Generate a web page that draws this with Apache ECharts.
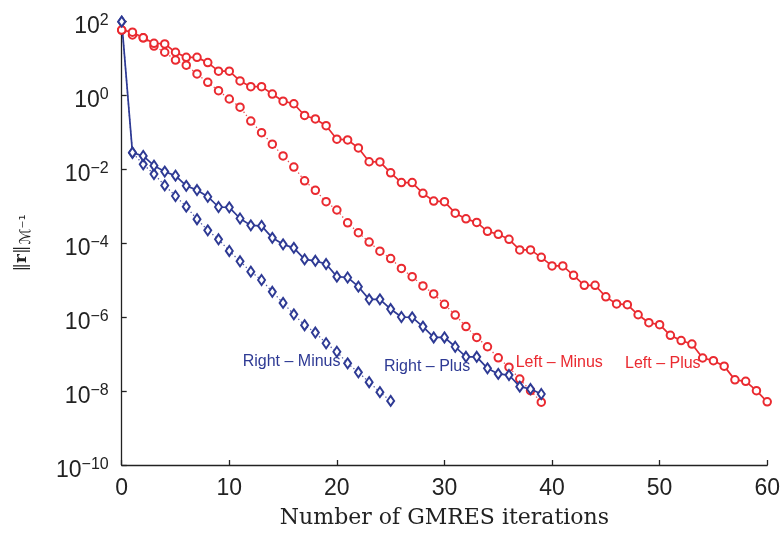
<!DOCTYPE html>
<html>
<head>
<meta charset="utf-8">
<script src="https://cdn.jsdelivr.net/npm/echarts@6/dist/echarts.min.js"></script>
<style>
  html, body { margin: 0; padding: 0; background: #ffffff; }
  #chart { width: 783px; height: 539px; }
</style>
</head>
<body>
<div id="chart"></div>
<script>
// Residual norm per GMRES iteration, four preconditioner variants
const leftPlus = [57, 50, 35, 25, 24, 14.3, 10.4, 10.4, 7.5, 4.4, 4.4, 2.4, 1.68, 1.68, 1.06,
  0.68, 0.58, 0.28, 0.225, 0.148, 0.064, 0.061, 0.037, 0.0157, 0.0155, 0.0079, 0.0043, 0.0043,
  0.0022, 0.00136, 0.00131, 6.4e-4, 4.5e-4, 3.6e-4, 2.07e-4, 1.72e-4, 1.26e-4, 6.5e-5, 6.5e-5,
  4.1e-5, 2.4e-5, 2.4e-5, 1.34e-5, 7.2e-6, 7.2e-6, 3.5e-6, 2.25e-6, 2.15e-6, 1.15e-6, 7.0e-7,
  6.2e-7, 3.2e-7, 2.3e-7, 1.86e-7, 7.8e-8, 6.6e-8, 4.7e-8, 2.0e-8, 1.83e-8, 1.02e-8, 5.1e-9];

const leftMinus = [57, 42, 35, 21, 14.3, 8.8, 6.4, 3.7, 2.2, 1.31, 0.78, 0.47, 0.198, 0.096,
  0.047, 0.0225, 0.0113, 0.0048, 0.00265, 0.00131, 7.8e-4, 3.5e-4, 1.9e-4, 1.06e-4, 6.0e-5,
  3.8e-5, 2.05e-5, 1.23e-5, 6.9e-6, 4.2e-6, 2.2e-6, 1.13e-6, 5.5e-7, 2.8e-7, 1.57e-7, 7.9e-8,
  4.4e-8, 2.1e-8, 1.02e-8, 5.0e-9];

const rightPlus = [96, 0.0276, 0.0225, 0.0123, 0.0085, 0.0066, 0.0035, 0.0027, 0.00178, 9.4e-4,
  9.2e-4, 4.6e-4, 3.0e-4, 2.9e-4, 1.38e-4, 9.2e-5, 7.4e-5, 3.6e-5, 3.3e-5, 2.7e-5, 1.23e-5,
  1.17e-5, 6.6e-6, 3.0e-6, 3.0e-6, 1.64e-6, 1.0e-6, 9.8e-7, 5.5e-7, 2.8e-7, 2.8e-7, 1.57e-7,
  8.4e-8, 8.4e-8, 4.1e-8, 2.9e-8, 2.7e-8, 1.31e-8, 1.13e-8, 8.3e-9];

const rightMinus = [96, 0.0276, 0.0134, 0.0073, 0.0036, 0.00186, 9.6e-4, 4.4e-4, 2.2e-4, 1.26e-4,
  6.1e-5, 3.2e-5, 1.68e-5, 1.0e-5, 4.8e-6, 2.4e-6, 1.18e-6, 6.0e-7, 3.8e-7, 1.95e-7, 1.15e-7,
  5.6e-8, 3.2e-8, 1.73e-8, 9.3e-9, 5.4e-9];

// Axis ranges
const xTicks = [0, 10, 20, 30, 40, 50, 60];
const yExponents = [-10, -8, -6, -4, -2, 0, 2];

const RED = '#ea2a30';
const BLUE = '#2e3a94';
const AXIS = '#222222';

const toPairs = arr => arr.map((v, i) => [i, v]);

function makeSeries(name, values, color, dotted, symbol, size) {
  return {
    name: name,
    type: 'line',
    data: toPairs(values),
    symbol: symbol,
    symbolSize: size,
    showAllSymbol: true,
    clip: false,
    z: dotted ? 2 : 3,
    lineStyle: dotted
      ? { color: color, width: 1.3, type: [1.3, 2.6], opacity: 0.85 }
      : { color: color, width: 1.7 },
    itemStyle: { color: color, borderWidth: 1.9 },
    emphasis: { disabled: true },
    animation: false
  };
}

const chart = echarts.init(document.getElementById('chart'), null, { renderer: 'canvas' });

const tickFont = 'Liberation Sans';

chart.setOption({
  backgroundColor: '#ffffff',
  animation: false,
  grid: { left: 121.7, right: 14.7, top: 21, bottom: 74, containLabel: false },
  xAxis: {
    type: 'value',
    min: xTicks[0],
    max: xTicks[xTicks.length - 1],
    interval: 10,
    name: 'Number of GMRES iterations',
    nameLocation: 'middle',
    nameGap: 42,
    nameTextStyle: { fontFamily: 'DejaVu Serif', fontSize: 22, color: '#222' },
    axisLine: { lineStyle: { color: AXIS, width: 1.3 } },
    axisTick: { inside: true, length: 5, lineStyle: { color: AXIS, width: 1.3 } },
    axisLabel: { margin: 12, fontFamily: tickFont, fontSize: 23, color: '#222' },
    splitLine: { show: false }
  },
  yAxis: {
    type: 'log',
    logBase: 100,
    min: Math.pow(10, yExponents[0]),
    max: Math.pow(10, yExponents[yExponents.length - 1]),
    name: '{n|‖}{r|r}{n|‖}{s|ℳ⁻¹}',
    nameLocation: 'middle',
    nameGap: 88,
    nameTextStyle: {
      color: '#222',
      rich: {
        n: { fontFamily: 'DejaVu Serif', fontSize: 17, color: '#222' },
        r: { fontFamily: 'DejaVu Serif', fontSize: 17, fontWeight: 'bold', color: '#222' },
        s: { fontFamily: 'DejaVu Sans', fontSize: 15, color: '#222', padding: [9, 0, 0, 1] }
      }
    },
    axisLine: { show: true, lineStyle: { color: AXIS, width: 1.3 } },
    axisTick: { show: true, inside: true, length: 5, lineStyle: { color: AXIS, width: 1.3 } },
    minorTick: { show: false },
    splitLine: { show: false },
    axisLabel: {
      margin: 13,
      formatter: function (value) {
        const e = Math.round(Math.log10(value));
        const exp = e < 0 ? '\u2212' + Math.abs(e) : String(e);
        return '{b|10}{e|' + exp + '}';
      },
      rich: {
        b: { fontFamily: tickFont, fontSize: 23, color: '#222', padding: [12, 0, 0, 0] },
        e: { fontFamily: tickFont, fontSize: 16, color: '#222' }
      }
    }
  },
  series: [
    makeSeries('Left – Minus', leftMinus, RED, true, 'emptyCircle', 7.5),
    makeSeries('Right – Minus', rightMinus, BLUE, true, 'emptyDiamond', [7, 10]),
    makeSeries('Left – Plus', leftPlus, RED, false, 'emptyCircle', 7.5),
    makeSeries('Right – Plus', rightPlus, BLUE, false, 'emptyDiamond', [7, 10])
  ],
  graphic: [
    { type: 'text', left: 242.7, top: 354, style: { text: 'Right – Minus', fill: BLUE, font: '16px "Liberation Sans"' } },
    { type: 'text', left: 384, top: 358.5, style: { text: 'Right – Plus', fill: BLUE, font: '16px "Liberation Sans"' } },
    { type: 'text', left: 515.7, top: 355, style: { text: 'Left – Minus', fill: RED, font: '16px "Liberation Sans"' } },
    { type: 'text', left: 625, top: 356, style: { text: 'Left – Plus', fill: RED, font: '16px "Liberation Sans"' } }
  ]
});
</script>
</body>
</html>
